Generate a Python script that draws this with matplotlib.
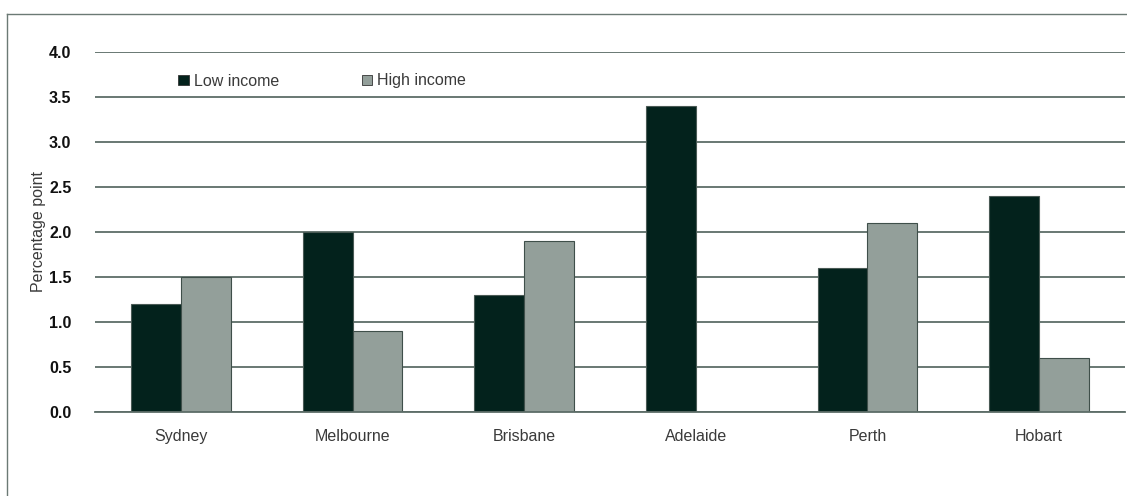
import numpy as np
import matplotlib.pyplot as plt
from matplotlib.patches import Patch
from matplotlib.lines import Line2D

# Data
cities = ['Sydney', 'Melbourne', 'Brisbane', 'Adelaide', 'Perth', 'Hobart']
low_income = [1.2, 2.0, 1.3, 3.4, 1.6, 2.4]
high_income = [1.5, 0.9, 1.9, 0.0, 2.1, 0.6]
yticks = [0.0, 0.5, 1.0, 1.5, 2.0, 2.5, 3.0, 3.5, 4.0]

dark = '#03221c'
grey = '#939f9a'
grid_c = '#5d6d68'
txt_c = '#3a3a3a'

plt.rcParams['font.family'] = ['Liberation Sans', 'DejaVu Sans']

fig = plt.figure(figsize=(11.27, 4.96), dpi=100)
ax = fig.add_axes([95/1127, 1-412/496, 1030/1127, 360/496])

x = np.arange(len(cities))
w = 0.29
ax.bar(x - w/2, low_income, w, color=dark, edgecolor='#4a5a55', linewidth=0.8, zorder=3)
ax.bar(x + w/2, [v if v > 0 else np.nan for v in high_income], w,
       color=grey, edgecolor='#3f4f4a', linewidth=0.8, zorder=3)

ax.set_xlim(-0.5, len(cities) - 0.5)
ax.set_ylim(0, 4.0)
ax.set_yticks(yticks)
ax.set_yticklabels([f'{v:.1f}' for v in yticks], fontweight='bold', fontsize=11.5, color='#111')
ax.set_xticks(x)
ax.set_xticklabels(cities, fontsize=11.5, color=txt_c)
ax.tick_params(axis='y', length=0, pad=17)
ax.tick_params(axis='x', length=0, pad=12)
ax.yaxis.grid(True, color=grid_c, linewidth=1.3, zorder=0)
ax.set_axisbelow(True)
for s in ['top', 'right', 'left']:
    ax.spines[s].set_visible(False)
ax.spines['bottom'].set_color(grid_c)
ax.spines['bottom'].set_linewidth(1.3)
ax.spines['bottom'].set_zorder(4)

fig.text(38/1127, 1-232/496, 'Percentage point', rotation=90, ha='center', va='center',
         fontsize=11.5, color=txt_c)

handles = [Patch(facecolor=dark, edgecolor='#333', linewidth=0.6, label='Low income'),
           Patch(facecolor=grey, edgecolor='#333', linewidth=0.6, label='High income')]
fig.legend(handles=handles, ncol=2, frameon=False, loc='center left',
           bbox_to_anchor=(164/1127, 1-81/496), handlelength=0.65, handleheight=0.65,
           handletextpad=0.3, columnspacing=5.2, fontsize=11.5, labelcolor=txt_c)

# outer frame lines (top and left)
fig.add_artist(Line2D([7/1127, 1], [1-14/496, 1-14/496], color='#6b7a75', linewidth=1))
fig.add_artist(Line2D([7/1127, 7/1127], [0, 1-14/496], color='#6b7a75', linewidth=1))

fig.savefig('out.png', dpi=100)
